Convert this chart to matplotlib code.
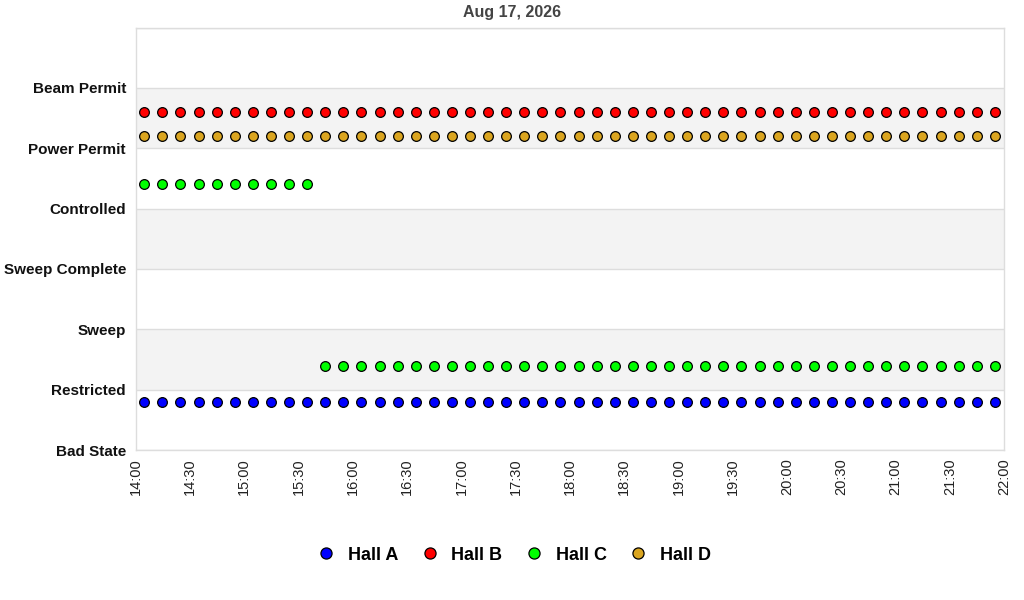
import matplotlib
matplotlib.use("Agg")
import matplotlib.pyplot as plt
import matplotlib.dates as mdates
import pandas as pd
from matplotlib.lines import Line2D

plt.rcParams['font.family'] = ['Liberation Sans', 'DejaVu Sans']

title = "Aug 17, 2026"
states = ["Bad State", "Restricted", "Sweep", "Sweep Complete", "Controlled", "Power Permit", "Beam Permit"]
halls = ["Hall A", "Hall B", "Hall C", "Hall D"]
colors = ["#0000ff", "#ff0000", "#00ff00", "#daa520"]
offsets = [0.8, 0.6, 0.4, 0.2]

times = pd.date_range("2026-08-17 14:04:45", periods=48, freq="10min")
hall_a = ["Bad State"] * 48
hall_b = ["Power Permit"] * 48
hall_c = ["Controlled"] * 10 + ["Restricted"] * 38
hall_d = ["Power Permit"] * 48
hall_values = [hall_a, hall_b, hall_c, hall_d]

fig = plt.figure(figsize=(10.24, 6), dpi=100)
ax = fig.add_axes([135.7 / 1024, 1 - 450 / 600, (1004.3 - 135.7) / 1024, (450 - 27.5) / 600])

for k in range(1, len(states), 2):
    ax.axhspan(k, k + 1, color="#f3f3f3", zorder=0, lw=0)
for k in range(len(states) + 1):
    ax.axhline(k, color="#dddddd", lw=1, zorder=1)

for name, vals, col, off in zip(halls, hall_values, colors, offsets):
    y = [states.index(v) + off for v in vals]
    ax.plot(times, y, linestyle="none", marker="o", markersize=7, markerfacecolor=col,
            markeredgecolor="black", markeredgewidth=0.9, zorder=3, label=name)

ax.set_ylim(0, 7)
ax.set_xlim(pd.Timestamp("2026-08-17 14:00"), pd.Timestamp("2026-08-17 22:00"))
ax.set_yticks(range(len(states)))
ax.set_yticklabels(states, fontsize=11, fontweight="bold", color="#111111")
ax.xaxis.set_major_locator(mdates.MinuteLocator(byminute=[0, 30]))
ax.xaxis.set_major_formatter(mdates.DateFormatter("%H:%M"))
plt.setp(ax.get_xticklabels(), rotation=90, fontsize=10.5, color="#222222")
ax.tick_params(axis="both", length=0)
ax.tick_params(axis="x", pad=6)
ax.tick_params(axis="y", pad=7)
for s in ax.spines.values():
    s.set_color("#dddddd")
    s.set_linewidth(1)

fig.text(0.5, 1 - 12.5 / 600, title, ha="center", va="center", fontsize=11.5,
         fontweight="bold", color="#444444")

handles = [Line2D([], [], linestyle="none", marker="o", markersize=8, markerfacecolor=c,
                  markeredgecolor="black", markeredgewidth=0.9) for c in colors]
fig.legend(handles, halls, loc="center", bbox_to_anchor=(0.502, 1 - 555 / 600), ncol=4,
           frameon=False, prop={"size": 13, "weight": "bold"}, handletextpad=0.7,
           columnspacing=1.25, handlelength=1.0)

fig.savefig("out.png", dpi=100)
